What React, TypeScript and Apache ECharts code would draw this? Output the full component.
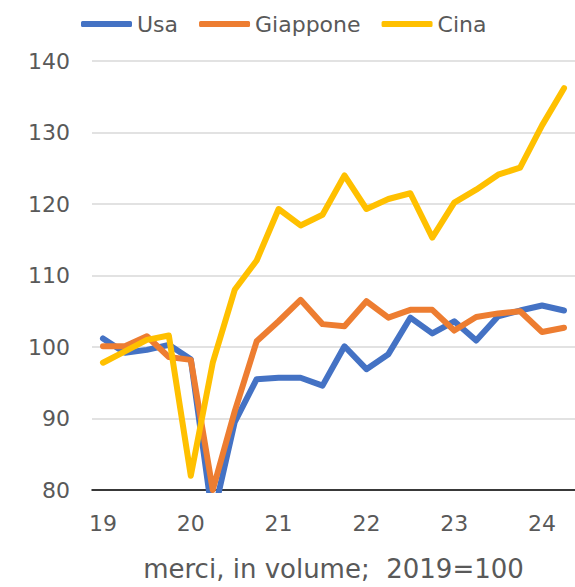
import React, { useEffect, useRef } from "react";
import * as echarts from "echarts";

const quarters = [
  "2019Q1", "2019Q2", "2019Q3", "2019Q4",
  "2020Q1", "2020Q2", "2020Q3", "2020Q4",
  "2021Q1", "2021Q2", "2021Q3", "2021Q4",
  "2022Q1", "2022Q2", "2022Q3", "2022Q4",
  "2023Q1", "2023Q2", "2023Q3", "2023Q4",
  "2024Q1", "2024Q2",
];

const usa = [101.2, 99.2, 99.6, 100.3, 98.3, 76, 89.5, 95.5, 95.7, 95.7, 94.6, 100.1, 96.9, 99.0, 104.1, 101.9, 103.6, 100.9, 104.3, 105.1, 105.8, 105.1];
const giappone = [100.1, 100.1, 101.5, 98.6, 98.2, 80, 91, 100.8, 103.6, 106.6, 103.2, 102.9, 106.4, 104.1, 105.2, 105.2, 102.3, 104.2, 104.7, 105.0, 102.1, 102.7];
const cina = [97.8, 99.4, 101.0, 101.6, 82.0, 97.8, 108.0, 112.1, 119.3, 117.0, 118.5, 124.0, 119.3, 120.7, 121.5, 115.3, 120.2, 122.0, 124.1, 125.1, 131.0, 136.2];

const seriesNames = ["Usa", "Giappone", "Cina"];
const colors = ["#4472C4", "#ED7D31", "#FFC000"];
const axisTitle = "merci, in volume;  2019=100";

const FONT = "DejaVu Sans";
const TEXT = "#595959";

export default function App() {
  const ref = useRef<HTMLDivElement>(null);
  useEffect(() => {
    if (!ref.current) return;
    const chart = echarts.init(ref.current, undefined, { renderer: "svg" });
    const dataSets = [usa, giappone, cina];
    chart.setOption({
      animation: false,
      color: colors,
      textStyle: { fontFamily: FONT },
      legend: {
        left: 76,
        top: 8,
        itemWidth: 51,
        itemHeight: 6,
        itemGap: 21,
        icon: "roundRect",
        textStyle: { fontFamily: FONT, fontSize: 22, color: TEXT },
        data: seriesNames,
      },
      grid: { left: 92, right: 0, top: 61, height: 430, containLabel: false },
      xAxis: {
        type: "category",
        data: quarters,
        boundaryGap: true,
        axisLine: { show: true, lineStyle: { color: "#000000", width: 1.5 } },
        axisTick: { show: false },
        axisLabel: {
          interval: 0,
          margin: 22,
          fontFamily: FONT,
          fontSize: 22,
          color: TEXT,
          formatter: (v: string) => (v.endsWith("Q1") ? v.slice(2, 4) : ""),
        },
        splitLine: { show: false },
        name: axisTitle,
        nameLocation: "middle",
        nameGap: 66,
        nameTextStyle: { fontFamily: FONT, fontSize: 26, color: TEXT },
      },
      yAxis: {
        type: "value",
        min: 80,
        max: 140,
        interval: 10,
        axisLine: { show: false },
        axisTick: { show: false },
        axisLabel: { margin: 22, fontFamily: FONT, fontSize: 22, color: TEXT },
        splitLine: { show: true, lineStyle: { color: "#D9D9D9", width: 1.5 } },
      },
      series: seriesNames.map((name, i) => ({
        name,
        type: "line",
        data: dataSets[i],
        showSymbol: false,
        symbol: "none",
        clip: true,
        lineStyle: { width: 6, color: colors[i], cap: "round", join: "round" },
        itemStyle: { color: colors[i] },
        z: 2 + i,
      })),
    });
    return () => chart.dispose();
  }, []);
  return (
    <div
      ref={ref}
      style={{ position: "fixed", left: 0, top: 0, width: 575, height: 587, background: "#ffffff" }}
    />
  );
}
